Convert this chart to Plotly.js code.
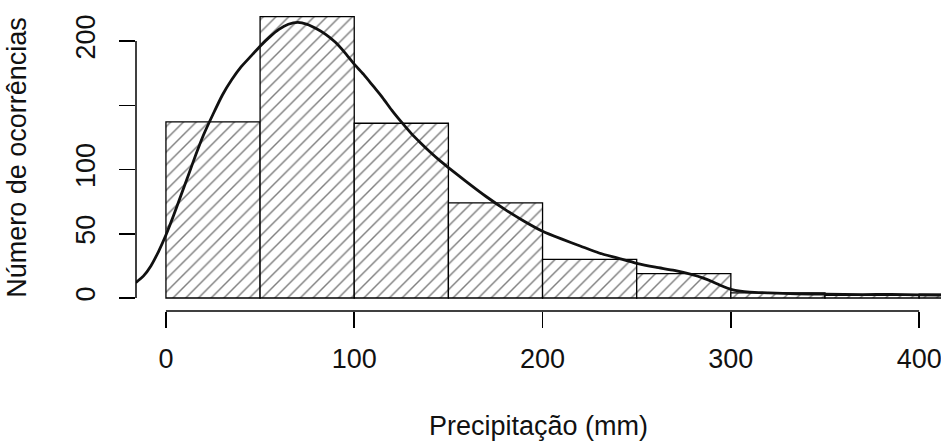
<!DOCTYPE html>
<html><head><meta charset="utf-8">
<script src="https://cdn.plot.ly/plotly-3.0.1.min.js"></script>
<style>html,body{margin:0;padding:0;background:#fff;}#chart{width:941px;height:441px;}</style>
</head><body><div id="chart"></div>
<script>
// Histogram bins (mm) and counts
const binStarts = [0, 50, 100, 150, 200, 250, 300, 350, 400];
const binWidth = 50;
const counts = [137, 219, 136, 74, 30, 19, 4, 2, 3];

// Density curve, scaled to counts
const densX = [-16, -12, -8, -4, 0, 4, 8, 12, 16, 20, 25, 30, 35, 40, 45, 50, 55, 60, 65, 70, 75, 80, 85, 90, 95, 100, 105, 110, 115, 120, 125, 130, 135, 140, 145, 150, 160, 170, 180, 190, 200, 210, 220, 230, 240, 250, 260, 270, 280, 285, 290, 295, 300, 305, 310, 320, 335, 350, 370, 385, 400, 412];
const densY = [12, 17, 25, 36, 49, 64, 80, 96, 112, 127, 143, 158, 170, 180, 188, 196, 203, 209, 213, 214.5, 213, 209.5, 205, 199, 191, 182, 174, 165, 156, 146, 137, 128.5, 121, 114, 107.5, 101.5, 90, 79, 69, 60, 52, 46, 40.5, 35, 31, 27, 24, 21.5, 18, 15.7, 12.8, 9.5, 6.8, 5.3, 4.6, 4.0, 3.3, 3.0, 2.7, 2.9, 2.5, 2.3];

// Axis ticks and titles
const xTickVals = [0, 100, 200, 300, 400];
const xTickText = ['0', '100', '200', '300', '400'];
const yTickVals = [0, 50, 100, 150, 200];
const yTickText = ['0', '50', '100', '', '200'];
const xTitle = 'Precipitação (mm)';
const yTitle = 'Número de ocorrências';

const FONT = 'Liberation Sans, Arial, Helvetica, sans-serif';

const bars = {
  type: 'bar',
  x: binStarts,
  y: counts,
  width: binWidth,
  offset: 0,
  marker: {
    color: '#ffffff',
    line: {color: '#000000', width: 1.3},
    pattern: {shape: '/', size: 9, solidity: 0.16, fgcolor: '#000000', bgcolor: '#ffffff', fillmode: 'overlay'}
  },
  hoverinfo: 'skip',
  showlegend: false
};

const dens = {
  type: 'scatter',
  mode: 'lines',
  x: densX,
  y: densY,
  line: {color: '#111111', width: 2.8, shape: 'spline', smoothing: 0.6},
  hoverinfo: 'skip',
  showlegend: false,
  cliponaxis: true
};

const layout = {
  width: 941,
  height: 441,
  margin: {l: 136, r: 0, t: 4, b: 130, pad: 0},
  paper_bgcolor: '#ffffff',
  plot_bgcolor: '#ffffff',
  font: {family: FONT, size: 27, color: '#111111'},
  bargap: 0,
  showlegend: false,
  xaxis: {
    range: [-15.9, 411.6],
    showgrid: false, zeroline: false, showline: false,
    tickmode: 'array', tickvals: xTickVals, ticktext: xTickText,
    ticks: 'outside', ticklen: 16, tickwidth: 1.5, tickcolor: '#000',
    tickfont: {family: FONT, size: 27, color: '#111'},
    ticklabelstandoff: 8,
    ticklabeloverflow: 'allow',
    automargin: false,
    title: {text: xTitle, font: {family: FONT, size: 27, color: '#111'}, standoff: 47}
  },
  yaxis: {
    range: [-10.1, 228.8],
    showgrid: false, zeroline: false, showline: false,
    tickmode: 'array', tickvals: yTickVals, ticktext: yTickText,
    ticks: 'outside', ticklen: 16, tickwidth: 1.5, tickcolor: '#000',
    tickangle: -90,
    tickfont: {family: FONT, size: 27, color: '#111'},
    ticklabelstandoff: 13,
    ticklabeloverflow: 'allow',
    automargin: false,
    title: {text: yTitle, font: {family: FONT, size: 27, color: '#111'}, standoff: 36}
  },
  shapes: [
    {type: 'line', xref: 'x', yref: 'paper', x0: xTickVals[0], x1: xTickVals[xTickVals.length - 1], y0: 0, y1: 0, line: {color: '#000', width: 1.5}},
    {type: 'line', xref: 'paper', yref: 'y', x0: 0, x1: 0, y0: yTickVals[0], y1: yTickVals[yTickVals.length - 1], line: {color: '#000', width: 1.5}}
  ]
};

Plotly.newPlot('chart', [bars, dens], layout, {displayModeBar: false, staticPlot: true});
</script>
</body></html>
